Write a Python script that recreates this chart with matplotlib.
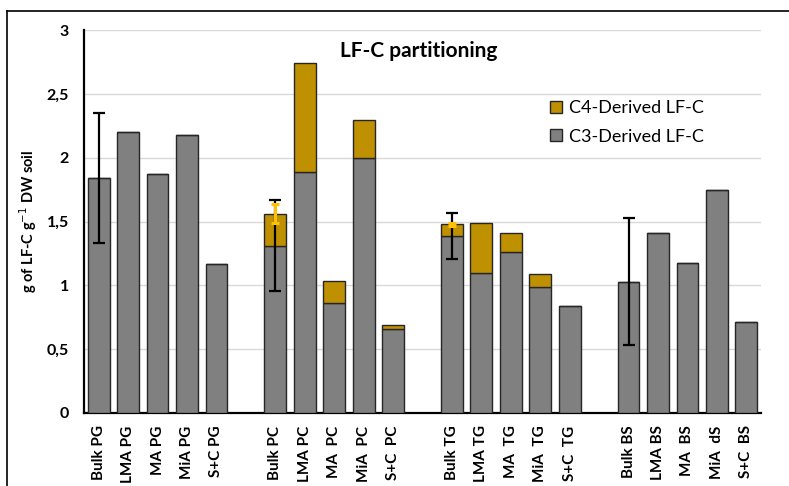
import matplotlib
matplotlib.use("Agg")
import matplotlib.pyplot as plt
import matplotlib.ticker as mticker
from matplotlib.lines import Line2D
import numpy as np

plt.rcParams["font.family"] = ["Lato", "DejaVu Sans"]

# ── Data ──────────────────────────────────────────────────────────────────────

GROUPS = [
    ["Bulk PG", "LMA PG", "MA PG", "MiA PG", "S+C PG"],
    ["Bulk PC", "LMA PC", "MA  PC", "MiA  PC", "S+C  PC"],
    ["Bulk TG", "LMA TG", "MA  TG", "MiA  TG", "S+C  TG"],
    ["Bulk BS", "LMA BS", "MA  BS", "MiA  dS", "S+C  BS"],
]

c3_derived = [
    1.84, 2.20, 1.87, 2.18, 1.17,
    1.31, 1.89, 0.86, 2.00, 0.655,
    1.39, 1.10, 1.263, 0.985, 0.838,
    1.03, 1.41, 1.177, 1.746, 0.713,
]
c4_derived = [
    0, 0, 0, 0, 0,
    0.25, 0.855, 0.175, 0.295, 0.032,
    0.09, 0.39, 0.145, 0.103, 0,
    0, 0, 0, 0, 0,
]

# error bars on the bulk samples (index into the 20 bars)
c3_err_idx = [0, 5, 10, 15]
c3_err = [0.51, 0.355, 0.18, 0.50]
c4_err_idx = [5, 10]
c4_err = [0.075, 0.012]

GREY = "#808080"
GOLD = "#BF9000"
EDGE = "#262626"

# ── Positions: one empty slot between groups ─────────────────────────────────

labels, xpos = [], []
slot = 0
for grp in GROUPS:
    for lab in grp:
        labels.append(lab)
        xpos.append(slot)
        slot += 1
    slot += 1
xpos = np.array(xpos)
c3 = np.array(c3_derived)
c4 = np.array(c4_derived)

fig = plt.figure(figsize=(7.89, 4.86), dpi=100, facecolor="white")
ax = fig.add_axes([84 / 789, 1 - 413 / 486, (761 - 84) / 789, (413 - 30) / 486])

ax.bar(xpos, c3, width=0.74, color=GREY, edgecolor=EDGE, linewidth=1.0,
       label="C3-Derived LF-C", zorder=3)
ax.bar(xpos, c4, width=0.74, bottom=c3, color=GOLD, edgecolor=EDGE, linewidth=1.0,
       label="C4-Derived LF-C", zorder=3)

ax.errorbar(xpos[c3_err_idx], c3[c3_err_idx], yerr=c3_err, fmt="none",
            ecolor="black", elinewidth=1.6, capsize=4, capthick=1.6, zorder=4)
ax.errorbar(xpos[c4_err_idx], (c3 + c4)[c4_err_idx], yerr=c4_err, fmt="none",
            ecolor="#FFC000", elinewidth=2.2, capsize=3, capthick=2.2, zorder=5)

ax.set_xlim(-0.5, xpos[-1] + 0.5)
ax.set_ylim(0, 3)
ax.yaxis.set_major_locator(mticker.MultipleLocator(0.5))
ax.yaxis.set_major_formatter(mticker.FuncFormatter(
    lambda v, _: f"{v:g}".replace(".", ",")))
ax.grid(axis="y", color="#D9D9D9", linewidth=1.0, zorder=0)
ax.set_axisbelow(True)

ax.set_xticks(xpos)
ax.set_xticklabels(labels, rotation=90, fontsize=11, fontweight="bold")
for t in ax.get_yticklabels():
    t.set_fontweight("bold")
    t.set_fontsize(11.5)
ax.tick_params(axis="both", length=0)
ax.tick_params(axis="y", pad=11)
ax.tick_params(axis="x", pad=9)

ax.spines[["top", "right"]].set_visible(False)
ax.spines[["left", "bottom"]].set_linewidth(1.6)
ax.spines[["left", "bottom"]].set_color("black")

ax.set_ylabel("g of LF-C g$^{-1}$ DW soil", fontsize=10.5, fontweight="bold", labelpad=5)

ax.text(0.495, 0.945, "LF-C partitioning", transform=ax.transAxes, ha="center",
        va="center", fontsize=15, fontweight="bold")

handles, leg_labels = ax.get_legend_handles_labels()
ax.legend(handles[::-1], leg_labels[::-1], loc="upper left",
          bbox_to_anchor=(0.665, 0.86), frameon=False, fontsize=13,
          handlelength=0.65, handleheight=0.65, handletextpad=0.4, labelspacing=0.7)

# outer chart frame (top and left edges)
fig.add_artist(Line2D([7 / 789, 7 / 789], [0, 1 - 11 / 486], color="black",
                      linewidth=1.2, transform=fig.transFigure))
fig.add_artist(Line2D([7 / 789, 1], [1 - 11 / 486, 1 - 11 / 486], color="black",
                      linewidth=1.2, transform=fig.transFigure))

fig.savefig("out.png", dpi=100)
